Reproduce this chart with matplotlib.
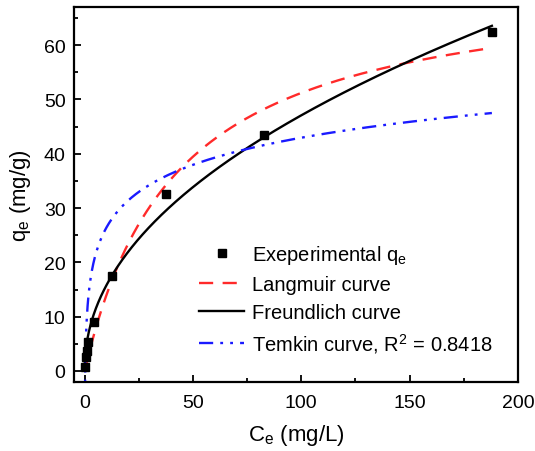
import numpy as np
import matplotlib
matplotlib.use("Agg")
import matplotlib.pyplot as plt
from matplotlib.ticker import MultipleLocator

plt.rcParams['font.family'] = ['Liberation Sans', 'DejaVu Sans']
plt.rcParams['mathtext.fontset'] = 'custom'
plt.rcParams['mathtext.rm'] = 'Liberation Sans'
plt.rcParams['mathtext.it'] = 'Liberation Sans'

# Experimental data
ce_exp = [0.3, 0.6, 1.0, 1.5, 4.5, 12.5, 37.5, 83.0, 188.0]
qe_exp = [0.8, 2.5, 3.6, 5.4, 9.0, 17.5, 32.5, 43.5, 62.5]

# Fitted model parameters
lang_qm, lang_k = 72.9, 0.0236
freu_kf, freu_inv_n = 5.27, 0.4755
temk_b, temk_a = 7.2, 3.9

c_fit = np.linspace(0.05, 188, 2000)
q_lang = lang_qm * lang_k * c_fit / (1 + lang_k * c_fit)
q_freu = freu_kf * c_fit ** freu_inv_n
q_temk = temk_b * np.log(temk_a * c_fit)

fig = plt.figure(figsize=(5.35, 4.52), dpi=100)
ax = fig.add_axes([0.138, 0.153, 0.830, 0.829])

ax.plot(ce_exp, qe_exp, 's', color='black', markersize=6, linestyle='none',
        label='Exeperimental q$_\\mathrm{e}$', zorder=5)
ax.plot(c_fit, q_lang, color='#ff2a2a', lw=1.7, dashes=(6, 4), label='Langmuir curve')
ax.plot(c_fit, q_freu, color='black', lw=1.7, label='Freundlich curve')
ax.plot(c_fit, q_temk, color='#1a1aff', lw=1.7, dashes=(6, 3, 1.2, 3, 1.2, 3),
        label='Temkin curve, R$^2$ = 0.8418')

ax.set_xlim(-5, 200)
ax.set_ylim(-2, 67)
ax.xaxis.set_major_locator(MultipleLocator(50))
ax.xaxis.set_minor_locator(MultipleLocator(25))
ax.yaxis.set_major_locator(MultipleLocator(10))
ax.yaxis.set_minor_locator(MultipleLocator(5))
ax.tick_params(which='both', direction='in', width=1.3, labelsize=14)
ax.tick_params(axis='x', pad=9)
ax.tick_params(axis='y', pad=6)
ax.tick_params(which='major', length=5)
ax.tick_params(which='minor', length=3)
for s in ax.spines.values():
    s.set_linewidth(1.6)

ax.set_xlabel('C$_\\mathrm{e}$ (mg/L)', fontsize=16, labelpad=8)
ax.set_ylabel('q$_\\mathrm{e}$ (mg/g)', fontsize=16, labelpad=8)

ax.legend(loc='lower right', bbox_to_anchor=(0.962, 0.05), borderaxespad=0,
          frameon=False, fontsize=14.5,
          handlelength=2.25, handletextpad=0.4, labelspacing=0.45)

fig.savefig('out.png', dpi=100)
